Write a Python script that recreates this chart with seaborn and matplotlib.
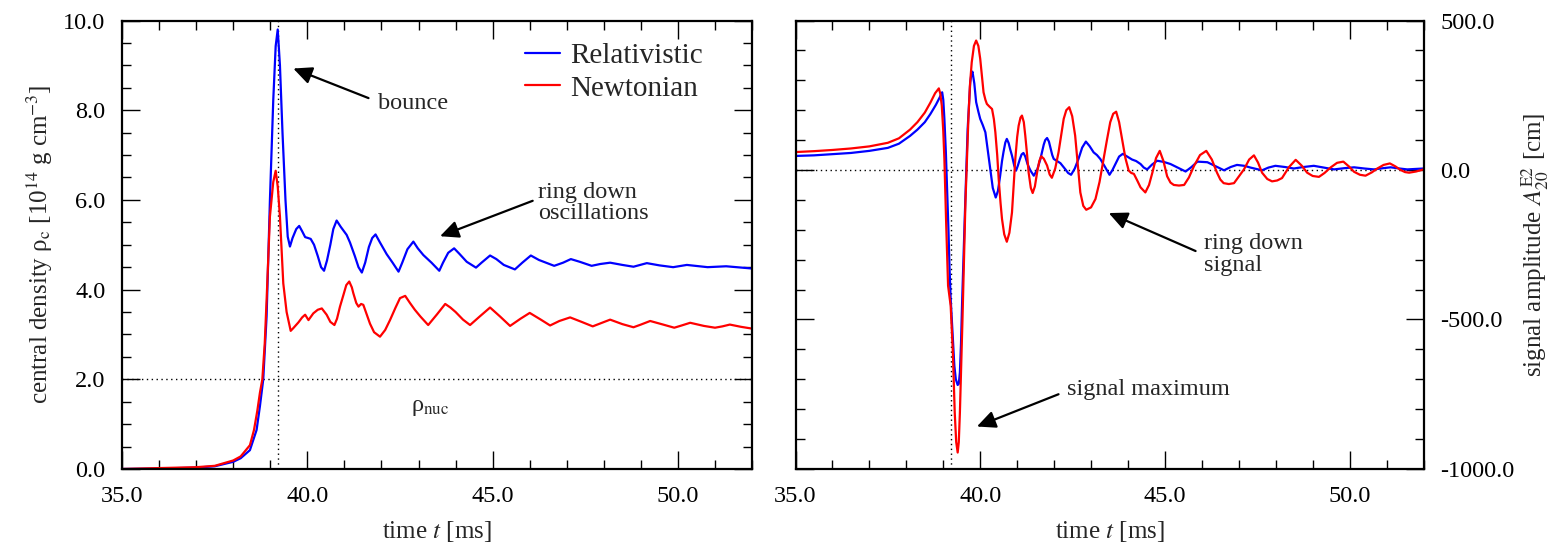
import numpy as np
import pandas as pd
import matplotlib
matplotlib.use("Agg")
import matplotlib.pyplot as plt
from matplotlib.ticker import MultipleLocator, FormatStrFormatter
import seaborn as sns

# ---------------- data ----------------
# Left panel: central density [1e14 g/cm^3]
t_rel_L = [35.0, 36.0, 37.0, 37.5, 38.0, 38.2, 38.45, 38.63, 38.72, 38.81, 38.9, 38.99, 39.08,
           39.145, 39.2, 39.26, 39.33, 39.41, 39.47, 39.53, 39.6, 39.7, 39.78, 39.86, 39.94,
           40.02, 40.09, 40.18, 40.28, 40.37, 40.45, 40.53, 40.62, 40.7, 40.79, 40.9, 41.06,
           41.15, 41.28, 41.38, 41.47, 41.56, 41.66, 41.75, 41.84, 41.96, 42.14, 42.3, 42.46,
           42.56, 42.7, 42.86, 42.98, 43.13, 43.35, 43.56, 43.66, 43.8, 43.96, 44.1, 44.3,
           44.55, 44.7, 44.93, 45.1, 45.3, 45.6, 45.8, 46.03, 46.25, 46.66, 46.9, 47.11,
           47.35, 47.67, 47.9, 48.17, 48.5, 48.8, 49.16, 49.5, 49.87, 50.24, 50.8, 51.3, 52.0]
rel_L = [0.0, 0.01, 0.03, 0.06, 0.16, 0.24, 0.42, 0.87, 1.4, 2.0, 3.4, 6.0, 8.23,
         9.43, 9.8, 9.0, 7.48, 5.99, 5.18, 4.96, 5.15, 5.35, 5.42, 5.3, 5.17,
         5.15, 5.13, 5.0, 4.75, 4.5, 4.42, 4.65, 5.0, 5.35, 5.54, 5.4, 5.22,
         5.05, 4.75, 4.5, 4.38, 4.6, 4.95, 5.15, 5.23, 5.05, 4.79, 4.6, 4.40,
         4.6, 4.9, 5.07, 4.92, 4.77, 4.6, 4.42, 4.6, 4.82, 4.92, 4.8, 4.62,
         4.49, 4.6, 4.76, 4.68, 4.55, 4.45, 4.6, 4.76, 4.66, 4.53, 4.6, 4.68,
         4.62, 4.53, 4.57, 4.6, 4.55, 4.51, 4.59, 4.54, 4.50, 4.55, 4.5, 4.52, 4.47]

t_new_L = [35.0, 36.0, 37.0, 37.5, 38.0, 38.2, 38.45, 38.56, 38.65, 38.72, 38.785, 38.85, 38.9,
           38.99, 39.08, 39.145, 39.2, 39.26, 39.35, 39.44, 39.55, 39.62, 39.76, 39.86, 39.94,
           40.03, 40.16, 40.28, 40.39, 40.52, 40.62, 40.73, 40.8, 40.88, 40.98, 41.05, 41.13,
           41.2, 41.24, 41.32, 41.38, 41.45, 41.51, 41.6, 41.69, 41.8, 41.96, 42.1, 42.23,
           42.38, 42.5, 42.64, 42.77, 42.9, 43.05, 43.26, 43.5, 43.72, 43.86, 44.0, 44.2,
           44.39, 44.65, 44.93, 45.2, 45.47, 45.75, 46.0, 46.3, 46.55, 46.8, 47.09, 47.4,
           47.7, 47.95, 48.17, 48.5, 48.8, 49.0, 49.25, 49.6, 49.9, 50.1, 50.33, 50.7,
           51.0, 51.2, 51.4, 51.7, 52.0]
new_L = [0.0, 0.02, 0.04, 0.07, 0.19, 0.28, 0.53, 0.87, 1.3, 1.7, 2.0, 2.8, 3.77,
         5.63, 6.4, 6.65, 6.3, 5.63, 4.14, 3.5, 3.08, 3.14, 3.27, 3.38, 3.44,
         3.32, 3.47, 3.55, 3.58, 3.44, 3.28, 3.21, 3.35, 3.62, 3.9, 4.1, 4.18,
         4.05, 3.92, 3.7, 3.62, 3.68, 3.66, 3.45, 3.24, 3.05, 2.95, 3.1, 3.32,
         3.6, 3.81, 3.86, 3.7, 3.55, 3.4, 3.21, 3.45, 3.68, 3.6, 3.5, 3.33,
         3.21, 3.4, 3.6, 3.4, 3.19, 3.35, 3.48, 3.33, 3.2, 3.3, 3.38, 3.28,
         3.18, 3.26, 3.33, 3.23, 3.16, 3.22, 3.3, 3.22, 3.15, 3.2, 3.26, 3.19,
         3.15, 3.18, 3.22, 3.17, 3.13]

# Right panel: signal amplitude A20E2 [cm]
t_rel_R = [35.0, 35.5, 36.0, 36.5, 37.0, 37.5, 37.8, 38.1, 38.3, 38.5, 38.65, 38.8, 38.9,
           38.97, 39.0, 39.03, 39.07, 39.1, 39.14, 39.17, 39.2, 39.23, 39.27, 39.3, 39.34,
           39.39, 39.42, 39.45, 39.48, 39.51, 39.55, 39.58, 39.62, 39.66, 39.7, 39.73, 39.76,
           39.79, 39.84, 39.89, 39.95, 40.0, 40.07, 40.14, 40.2, 40.27, 40.34, 40.42, 40.48,
           40.54, 40.59, 40.63, 40.68, 40.72, 40.77, 40.81, 40.86, 40.92, 40.97, 41.02, 41.07,
           41.12, 41.17, 41.22, 41.28, 41.36, 41.45, 41.54, 41.63, 41.72, 41.76, 41.81, 41.86,
           41.9, 41.95, 41.99, 42.08, 42.17, 42.3, 42.38, 42.46, 42.56, 42.66, 42.76, 42.86,
           42.96, 43.07, 43.16, 43.25, 43.38, 43.5, 43.58, 43.66, 43.76, 43.86, 43.98, 44.11,
           44.22, 44.34, 44.43, 44.52, 44.65, 44.79, 44.97, 45.15, 45.35, 45.56, 45.72, 45.88,
           46.15, 46.38, 46.6, 46.78, 46.95, 47.15, 47.32, 47.63, 47.8, 47.99, 48.25, 48.49,
           48.75, 49.03, 49.3, 49.58, 49.85, 50.12, 50.4, 50.66, 50.9, 51.11, 51.35, 51.56, 52.0]
rel_R = [47, 49, 53, 57, 64, 74, 88, 114, 135, 160, 187, 218, 242,
         260, 235, 171, 60, -52, -200, -331, -430, -499, -590, -655, -700,
         -719, -715, -677, -580, -443, -290, -164, -10, 137, 230, 293, 320,
         329, 290, 227, 195, 171, 150, 126, 70, 3, -60, -92, -70,
         -19, 30, 60, 92, 104, 90, 70, 48, 15, -2, 15, 35,
         52, 57, 45, 20, -2, -19, 0, 37, 85, 100, 107, 95,
         75, 50, 37, 30, 23, 3, -10, -16, 5, 37, 75, 95,
         80, 59, 50, 37, 10, -16, 0, 20, 45, 54, 45, 35,
         30, 20, 8, 2, 18, 31, 27, 20, 8, -5, 10, 28,
         26, 12, -1, 10, 17, 14, 8, -1, 8, 14, 10, 5,
         10, 14, 8, 2, 6, 9, 5, 2, 6, 9, 5, 2, 5]

t_new_R = [35.0, 35.5, 36.0, 36.5, 37.0, 37.5, 37.8, 38.1, 38.3, 38.5, 38.65, 38.78, 38.88,
           38.92, 38.96, 39.0, 39.03, 39.08, 39.13, 39.16, 39.2, 39.26, 39.31, 39.35, 39.39,
           39.42, 39.45, 39.52, 39.56, 39.6, 39.68, 39.72, 39.77, 39.83, 39.89, 39.95, 40.0,
           40.05, 40.09, 40.14, 40.18, 40.25, 40.32, 40.37, 40.41, 40.46, 40.5, 40.55, 40.59,
           40.65, 40.72, 40.79, 40.86, 40.9, 40.95, 41.0, 41.04, 41.09, 41.13, 41.18, 41.22,
           41.27, 41.31, 41.37, 41.42, 41.48, 41.54, 41.6, 41.65, 41.72, 41.81, 41.88, 41.94,
           42.03, 42.12, 42.19, 42.26, 42.33, 42.41, 42.49, 42.57, 42.64, 42.71, 42.79, 42.87,
           43.0, 43.12, 43.23, 43.34, 43.43, 43.52, 43.6, 43.68, 43.76, 43.84, 43.93, 44.02,
           44.09, 44.16, 44.25, 44.34, 44.47, 44.57, 44.66, 44.76, 44.86, 44.96, 45.06, 45.15,
           45.24, 45.38, 45.52, 45.65, 45.79, 45.95, 46.12, 46.27, 46.41, 46.5, 46.59, 46.73,
           46.87, 47.0, 47.14, 47.28, 47.41, 47.52, 47.63, 47.77, 47.9, 48.04, 48.17, 48.36,
           48.54, 48.7, 48.85, 49.0, 49.17, 49.32, 49.48, 49.66, 49.83, 49.98, 50.12, 50.28,
           50.43, 50.6, 50.75, 50.92, 51.09, 51.24, 51.38, 51.5, 51.61, 51.8, 52.0]
new_R = [60, 63, 67, 72, 79, 91, 106, 135, 160, 192, 225, 257, 273,
         255, 215, 130, 37, -186, -387, -415, -454, -610, -811, -910, -945,
         -910, -811, -499, -300, -108, 171, 280, 360, 415, 433, 415, 372,
         310, 260, 235, 221, 212, 204, 170, 126, 50, -30, -110, -164,
         -215, -240, -210, -142, -60, 37, 110, 148, 175, 182, 160, 115,
         50, -8, -60, -77, -55, -8, 30, 46, 38, 15, -15, -26,
         5, 59, 115, 171, 200, 210, 180, 115, 20, -75, -120, -133,
         -125, -97, -40, 37, 100, 160, 188, 195, 160, 104, 40, -2,
         -10, -13, -35, -58, -75, -50, -9, 40, 64, 30, -21, -42,
         -50, -52, -50, -25, 14, 50, 64, 35, -9, -32, -44, -47,
         -44, -22, 2, 35, 49, 25, -9, -30, -38, -35, -27, 10,
         34, 15, -9, -20, -23, -10, 8, 24, 28, 12, -6, -16,
         -19, -8, 5, 17, 22, 12, 0, -7, -9, -5, 2]

series_names = ["Relativistic", "Newtonian"]
series_colors = ["#0000ff", "#ff0000"]
t_bounce = 39.22
rho_nuc = 2.0

# ---------------- style ----------------
sns.set_theme(style="ticks")
plt.rcParams["font.family"] = ["Liberation Serif", "DejaVu Serif"]
plt.rcParams["mathtext.fontset"] = "stix"
plt.rcParams["axes.linewidth"] = 1.6
plt.rcParams["axes.edgecolor"] = "black"

fig = plt.figure(figsize=(15.51, 5.44), dpi=100)
ax1 = fig.add_axes([0.0787, 0.1379, 0.4062, 0.8244])
ax2 = fig.add_axes([0.5129, 0.1379, 0.4049, 0.8244])

FS_TICK = 17.5
FS_LAB = 18
FS_ANN = 17.5
ARROW = dict(arrowstyle="-|>,head_length=0.75,head_width=0.35",
             color="black", lw=1.6, mutation_scale=15, shrinkA=0, shrinkB=0)

# ---------------- left panel ----------------
dfL = pd.concat([
    pd.DataFrame({"t": t_rel_L, "v": rel_L, "model": series_names[0]}),
    pd.DataFrame({"t": t_new_L, "v": new_L, "model": series_names[1]}),
])
sns.lineplot(data=dfL, x="t", y="v", hue="model", palette=series_colors,
             ax=ax1, linewidth=1.6, estimator=None, sort=True)
ax1.axvline(t_bounce, color="black", lw=1.0, ls=(0, (1, 2.5)), zorder=1)
ax1.axhline(rho_nuc, color="black", lw=1.0, ls=(0, (1, 2.5)), zorder=1)
ax1.set_xlim(35, 52)
ax1.set_ylim(0, 10)
ax1.xaxis.set_major_locator(MultipleLocator(5))
ax1.xaxis.set_minor_locator(MultipleLocator(1))
ax1.yaxis.set_major_locator(MultipleLocator(2))
ax1.yaxis.set_minor_locator(MultipleLocator(0.5))
ax1.xaxis.set_major_formatter(FormatStrFormatter("%.1f"))
ax1.yaxis.set_major_formatter(FormatStrFormatter("%.1f"))
ax1.set_xlabel("time $t$ [ms]", fontsize=FS_LAB, labelpad=9)
ax1.set_ylabel(r"central density ρ$_\mathrm{c}$ [10$^{14}$ g cm$^{-3}$]", fontsize=FS_LAB, labelpad=6)

leg = ax1.legend(loc="upper left", bbox_to_anchor=(0.64, 0.95), frameon=False,
                 fontsize=21, handlelength=1.2, handletextpad=0.35, labelspacing=0.2,
                 borderpad=0, borderaxespad=0)
for line in leg.get_lines():
    line.set_linewidth(1.6)

ax1.annotate("", xy=(39.62, 8.93), xytext=(41.65, 8.27), arrowprops=ARROW)
ax1.text(41.9, 8.16, "bounce", fontsize=FS_ANN, ha="left", va="center")
ax1.annotate("", xy=(43.58, 5.19), xytext=(46.08, 5.98), arrowprops=ARROW)
ax1.text(46.23, 5.93, "ring down\noscillations", fontsize=FS_ANN, ha="left", va="center",
         linespacing=1.05)
ax1.text(43.31, 1.36, r"ρ$_\mathrm{nuc}$", fontsize=FS_ANN, ha="center", va="center")

# ---------------- right panel ----------------
dfR = pd.concat([
    pd.DataFrame({"t": t_rel_R, "v": rel_R, "model": series_names[0]}),
    pd.DataFrame({"t": t_new_R, "v": new_R, "model": series_names[1]}),
])
sns.lineplot(data=dfR, x="t", y="v", hue="model", palette=series_colors,
             ax=ax2, linewidth=1.6, estimator=None, sort=True, legend=False)
ax2.axvline(t_bounce, color="black", lw=1.0, ls=(0, (1, 2.5)), zorder=1)
ax2.axhline(0.0, color="black", lw=1.0, ls=(0, (1, 2.5)), zorder=1)
ax2.set_xlim(35, 52)
ax2.set_ylim(-1000, 500)
ax2.xaxis.set_major_locator(MultipleLocator(5))
ax2.xaxis.set_minor_locator(MultipleLocator(1))
ax2.yaxis.set_major_locator(MultipleLocator(500))
ax2.yaxis.set_minor_locator(MultipleLocator(100))
ax2.xaxis.set_major_formatter(FormatStrFormatter("%.1f"))
ax2.yaxis.set_major_formatter(FormatStrFormatter("%.1f"))
ax2.set_xlabel("time $t$ [ms]", fontsize=FS_LAB, labelpad=9)
ax2.yaxis.set_label_position("right")
ax2.set_ylabel(r"signal amplitude $A_{20}^{\mathrm{E2}}$ [cm]", fontsize=FS_LAB, labelpad=4)

ax2.annotate("", xy=(39.91, -858), xytext=(42.12, -750), arrowprops=ARROW)
ax2.text(42.35, -733, "signal maximum", fontsize=FS_ANN, ha="left", va="center")
ax2.annotate("", xy=(43.48, -144), xytext=(45.83, -271), arrowprops=ARROW)
ax2.text(46.07, -283, "ring down\nsignal", fontsize=FS_ANN, ha="left", va="center",
         linespacing=1.05)

# ---------------- ticks ----------------
for ax in (ax1, ax2):
    ax.tick_params(which="both", direction="in", top=True, bottom=True, left=True, right=True,
                   color="black", width=1.0, labelsize=FS_TICK, labelcolor="black")
    ax.tick_params(which="major", length=13, pad=12)
    ax.tick_params(which="minor", length=6.5)
    for s in ax.spines.values():
        s.set_visible(True)
        s.set_color("black")
        s.set_linewidth(1.6)
ax2.tick_params(axis="y", which="both", labelleft=False, labelright=True)

fig.savefig("out.png", dpi=100)
